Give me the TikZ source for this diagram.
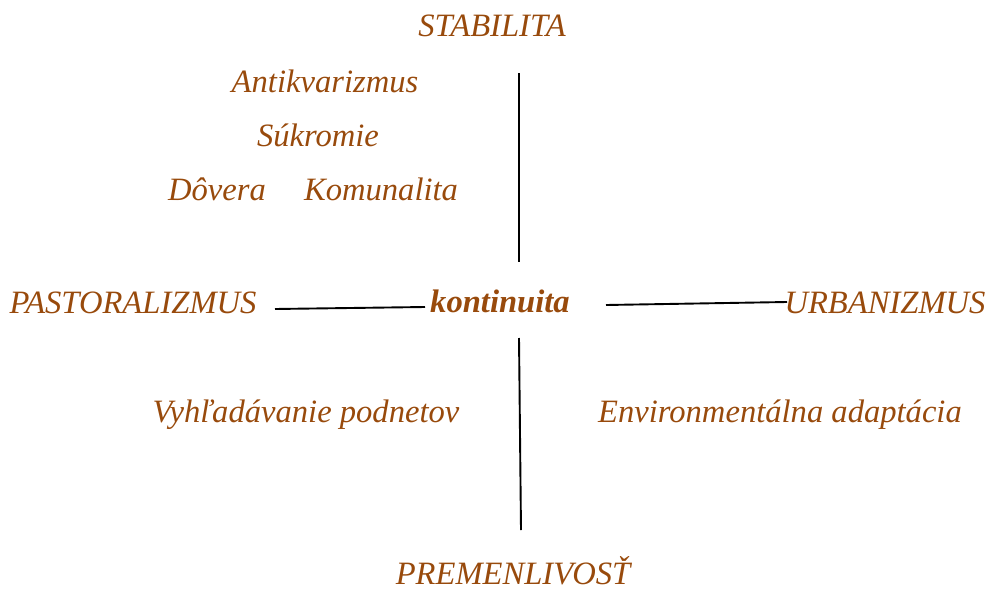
\documentclass[tikz,border=0pt]{standalone}
\usepackage{fontspec}
\setmainfont{Liberation Serif}
\definecolor{brn}{RGB}{152,74,12}
\begin{document}
\begin{tikzpicture}[x=1pt,y=-1pt,
  lbl/.style={text=brn,font=\fontsize{32.6}{38}\selectfont\itshape,anchor=base,inner sep=0pt},
  ctr/.style={lbl,font=\fontsize{32.6}{38}\selectfont\bfseries\itshape},
  axis/.style={draw=black,line width=1.9pt}]
\useasboundingbox (0,0) rectangle (985,589);
\node[lbl] (stab) at (492,36) {STABILITA};
\node[lbl] (anti) at (325,92) {Antikvarizmus};
\node[lbl] (sukr) at (318,146) {Súkromie};
\node[lbl] (dove) at (217,200) {Dôvera};
\node[lbl] (komu) at (381,200) {Komunalita};
\node[lbl] (past) at (133,313) {PASTORALIZMUS};
\node[ctr] (kont) at (500,312) {kontinuita};
\node[lbl] (urba) at (885,313) {URBANIZMUS};
\node[lbl] (vyhl) at (306,422) {Vyhľadávanie podnetov};
\node[lbl] (envi) at (780,422) {Environmentálna adaptácia};
\node[lbl,text depth=0pt] (prem) at (513,584) {PREMENLIVOSŤ};
\coordinate (u1) at (519,73);
\coordinate (u2) at (519,262);
\coordinate (d1) at (519,338);
\coordinate (d2) at (521,530);
\coordinate (l1) at (275,309);
\coordinate (l2) at (425,307);
\coordinate (r1) at (606,305);
\coordinate (r2) at (787,302);
\draw[axis] (u1) -- (u2);
\draw[axis] (d1) -- (d2);
\draw[axis] (l1) -- (l2);
\draw[axis] (r1) -- (r2);
\end{tikzpicture}
\end{document}
